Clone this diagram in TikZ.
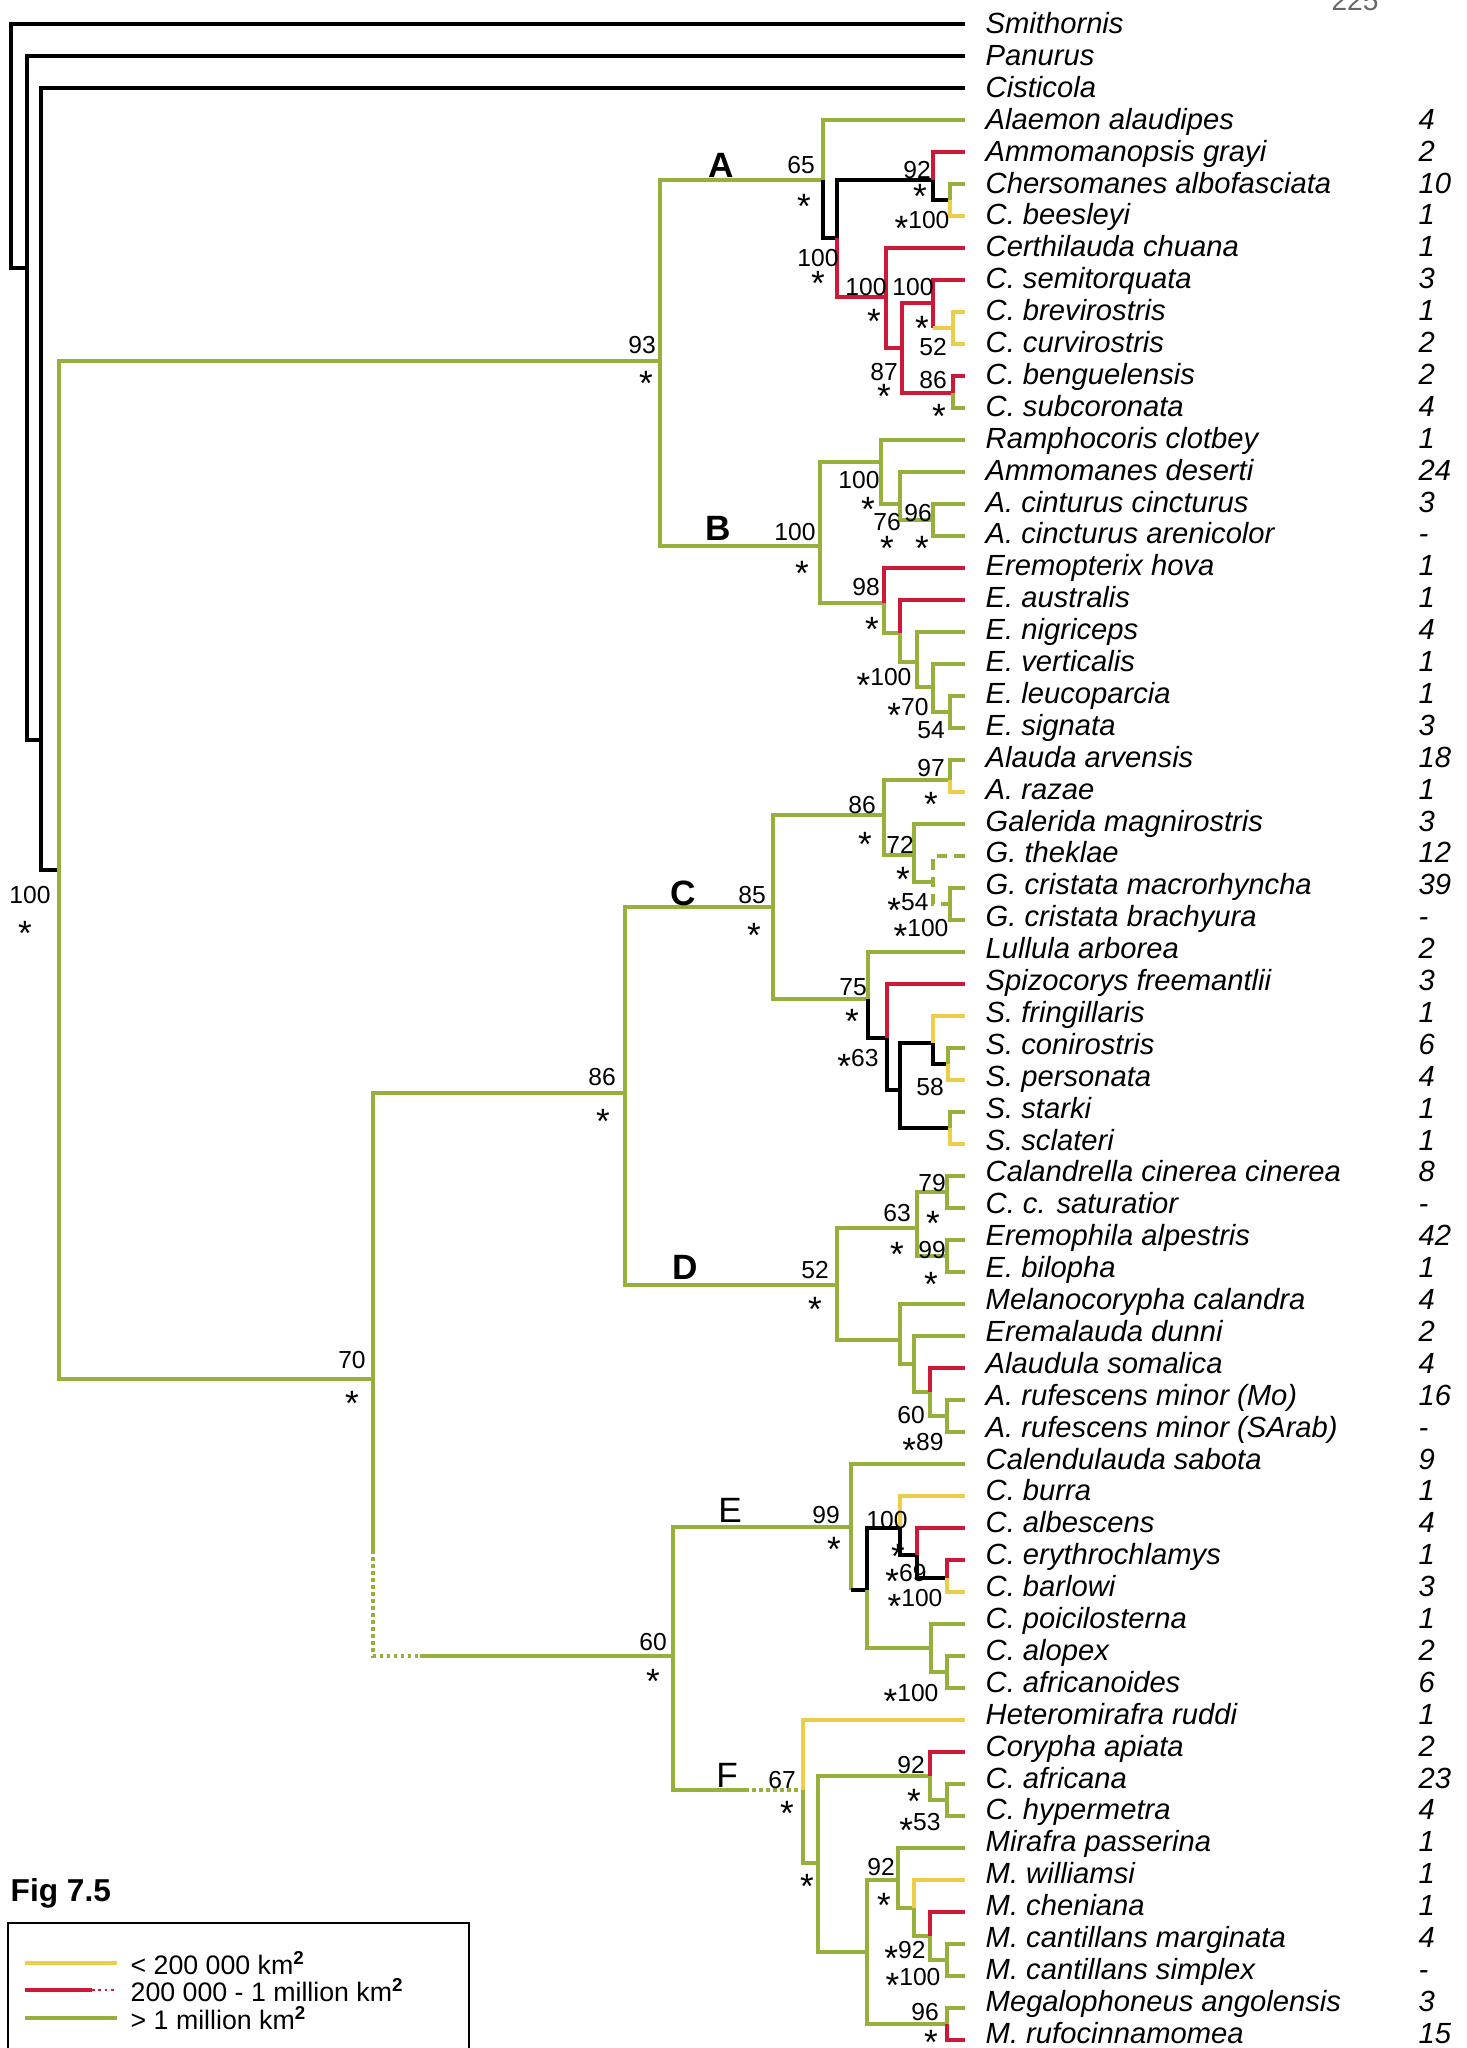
\documentclass[tikz,border=0pt]{standalone}
\usepackage{fontspec}
\setmainfont{Liberation Sans}
\usepackage{xcolor}
\usepackage{tikz}
\usetikzlibrary{positioning}

\definecolor{bigarea}{RGB}{150,176,60}
\definecolor{midarea}{RGB}{205,25,55}
\definecolor{smallarea}{RGB}{238,205,75}
\newcommand{\taxfont}{\fontsize{8.3}{9}\selectfont\itshape}
\newcommand{\sstar}{\raisebox{-3.4pt}[3.8pt][0pt]{\fontsize{10}{10}\selectfont *}}

\begin{document}
\begin{tikzpicture}[
  x=0.01cm, y=-0.01cm,
  rangebig/.style={draw=bigarea, line width=1pt},
  rangemid/.style={draw=midarea, line width=1pt},
  rangesmall/.style={draw=smallarea, line width=1pt},
  noinfo/.style={draw=black, line width=1pt},
  outgroup/.style={draw=black, line width=1.3pt},
  taxon/.style={anchor=base west, inner sep=0pt, yshift=-3pt, font=\taxfont},
  tally/.style={anchor=base west, inner sep=0pt, yshift=-3pt, font=\taxfont},
  supp/.style={inner sep=0pt, font=\fontsize{7}{7}\selectfont},
  clade/.style={inner sep=0pt, font=\bfseries\fontsize{10}{10}\selectfont},
  plainclade/.style={inner sep=0pt, font=\fontsize{10}{10}\selectfont},
  legtext/.style={anchor=west, inner sep=0pt, font=\fontsize{7.6}{8}\selectfont},
]
  \useasboundingbox (0,0) rectangle (1467,2048);

  % outgroups
  \draw[outgroup] (27,268) -| (11,24) -- (965,24);
  \draw[outgroup] (41,740) -| (27,56) -- (965,56);
  \draw[outgroup] (59,870) -| (41,88) -- (965,88);

  % backbone
  \draw[rangebig] (660,361) -| (59,1379) -- (373,1379);
  \draw[rangebig] (823,180) -| (660,546) -- (820,546);
  \draw[rangebig] (625,1093) -| (373,1550);
  \draw[rangebig, densely dotted] (373,1550) |- (420,1656);
  \draw[rangebig] (420,1656) -- (673,1656);
  \draw[rangebig] (773,907) -| (625,1285) -- (837,1285);
  \draw[rangebig] (851,1527) -| (673,1790) -- (745,1790);
  \draw[rangebig, densely dotted] (745,1790) -- (803,1790);

  % clade A
  \draw[rangebig] (823,180) |- (965,120);
  \draw[noinfo] (823,180) |- (837,238) -- (837,180) -- (933,180) -- (933,200) -- (950,200);
  \draw[rangemid] (933,180) |- (965,152);
  \draw[rangebig] (950,200) |- (965,184);
  \draw[rangesmall] (950,200) |- (965,216);
  \draw[rangemid] (837,238) |- (886,297);
  \draw[rangemid] (965,248) -| (886,348) -- (902,348);
  \draw[rangemid] (933,303) -| (902,393) -- (953,393);
  \draw[rangemid] (965,280) -| (933,328);
  \draw[rangesmall] (933,328) -- (953,328);
  \draw[rangesmall] (965,312) -| (953,344) -- (965,344);
  \draw[rangemid] (965,376) -| (953,393);
  \draw[rangebig] (953,393) |- (965,408);

  % clade B
  \draw[rangebig] (881,462) -| (820,603) -- (884,603);
  \draw[rangebig] (965,440) -| (881,504) -- (900,504);
  \draw[rangebig] (965,472) -| (900,520) -- (933,520);
  \draw[rangebig] (965,504) -| (933,536) -- (965,536);
  \draw[rangemid] (965,568) -| (884,603);
  \draw[rangebig] (884,603) |- (900,633);
  \draw[rangemid] (965,600) -| (900,633);
  \draw[rangebig] (900,633) |- (917,662);
  \draw[rangebig] (965,632) -| (917,687) -- (933,687);
  \draw[rangebig] (965,664) -| (933,712) -- (950,712);
  \draw[rangebig] (965,696) -| (950,728) -- (965,728);

  % clade C
  \draw[rangebig] (884,815) -| (773,999) -- (868,999);
  \draw[rangebig] (965,760) -| (950,780) -- (884,780) |- (914,855);
  \draw[rangesmall] (950,780) |- (965,792);
  \draw[rangebig] (965,824) -| (914,882) -- (933,882);
  \draw[rangebig, densely dashed] (965,856) -| (933,904) -- (950,904);
  \draw[rangebig] (965,888) -| (950,920) -- (965,920);
  \draw[rangebig] (965,952) -| (868,999);
  \draw[noinfo] (868,999) |- (887,1038);
  \draw[rangemid] (965,984) -| (887,1038);
  \draw[noinfo] (887,1038) |- (900,1090);
  \draw[noinfo] (933,1043) -| (900,1128) -- (950,1128);
  \draw[rangesmall] (965,1016) -| (933,1043);
  \draw[noinfo] (933,1043) |- (948,1064);
  \draw[rangebig] (965,1048) -| (948,1064);
  \draw[rangesmall] (948,1064) |- (965,1080);
  \draw[rangebig] (965,1112) -| (950,1128);
  \draw[rangesmall] (950,1128) |- (965,1144);

  % clade D
  \draw[rangebig] (917,1228) -| (837,1340) -- (900,1340);
  \draw[rangebig] (947,1192) -| (917,1256) -- (947,1256);
  \draw[rangebig] (965,1176) -| (947,1208) -- (965,1208);
  \draw[rangebig] (965,1240) -| (947,1272) -- (965,1272);
  \draw[rangebig] (965,1304) -| (900,1364) -- (914,1364);
  \draw[rangebig] (965,1336) -| (914,1392) -- (930,1392);
  \draw[rangemid] (965,1368) -| (930,1392);
  \draw[rangebig] (930,1392) |- (947,1416);
  \draw[rangebig] (965,1400) -| (947,1432) -- (965,1432);

  % clade E
  \draw[rangebig] (965,1464) -| (851,1590);
  \draw[noinfo] (851,1590) -- (867,1590) -- (867,1528) -- (900,1528) -- (900,1555) -- (917,1555) -- (917,1578) -- (947,1578);
  \draw[rangesmall] (965,1496) -| (900,1528);
  \draw[rangemid] (965,1528) -| (917,1555);
  \draw[rangemid] (965,1560) -| (947,1578);
  \draw[rangesmall] (947,1578) |- (965,1592);
  \draw[rangebig] (867,1590) |- (931,1648);
  \draw[rangebig] (965,1624) -| (931,1672) -- (947,1672);
  \draw[rangebig] (965,1656) -| (947,1688) -- (965,1688);

  % clade F
  \draw[rangesmall] (965,1720) -| (803,1790);
  \draw[rangebig] (803,1790) |- (818,1863);
  \draw[rangebig] (930,1776) -| (818,1952) -- (867,1952);
  \draw[rangemid] (965,1752) -| (930,1776);
  \draw[rangebig] (930,1776) |- (947,1800);
  \draw[rangebig] (965,1784) -| (947,1816) -- (965,1816);
  \draw[rangebig] (898,1880) -| (867,2024) -- (947,2024);
  \draw[rangebig] (965,1848) -| (898,1908) -- (914,1908);
  \draw[rangesmall] (965,1880) -| (914,1908);
  \draw[rangebig] (914,1908) |- (930,1936);
  \draw[rangemid] (965,1912) -| (930,1936);
  \draw[rangebig] (930,1936) |- (947,1960);
  \draw[rangebig] (965,1944) -| (947,1976) -- (965,1976);
  \draw[rangebig] (965,2008) -| (947,2024);
  \draw[rangemid] (947,2024) |- (965,2040);

  % taxa and counts
  \foreach \tx/\ct [count=\i from 0] in {
    Smithornis/, Panurus/, Cisticola/,
    Alaemon alaudipes/4, Ammomanopsis grayi/2, Chersomanes albofasciata/10,
    C. beesleyi/1, Certhilauda chuana/1, C. semitorquata/3, C. brevirostris/1,
    C. curvirostris/2, C. benguelensis/2, C. subcoronata/4,
    Ramphocoris clotbey/1, Ammomanes deserti/24, A. cinturus cincturus/3,
    A. cincturus arenicolor/-, Eremopterix hova/1, E. australis/1,
    E. nigriceps/4, E. verticalis/1, E. leucoparcia/1, E. signata/3,
    Alauda arvensis/18, A. razae/1, Galerida magnirostris/3, G. theklae/12,
    G. cristata macrorhyncha/39, G. cristata brachyura/-, Lullula arborea/2,
    Spizocorys freemantlii/3, S. fringillaris/1, S. conirostris/6,
    S. personata/4, S. starki/1, S. sclateri/1,
    Calandrella cinerea cinerea/8, C. c. saturatior/-, Eremophila alpestris/42,
    E. bilopha/1, Melanocorypha calandra/4, Eremalauda dunni/2,
    Alaudula somalica/4, A. rufescens minor (Mo)/16, A. rufescens minor (SArab)/-,
    Calendulauda sabota/9, C. burra/1, C. albescens/4, C. erythrochlamys/1,
    C. barlowi/3, C. poicilosterna/1, C. alopex/2, C. africanoides/6,
    Heteromirafra ruddi/1, Corypha apiata/2, C. africana/23, C. hypermetra/4,
    Mirafra passerina/1, M. williamsi/1, M. cheniana/1,
    M. cantillans marginata/4, M. cantillans simplex/-,
    Megalophoneus angolensis/3, M. rufocinnamomea/15}
  {
    \node[taxon] (t\i) at (985,{23+31.9*\i}) {\tx};
    \node[tally] (n\i) at (1418,{23+31.9*\i}) {\ct};
  }

  % support values
  \foreach \sx/\sy/\txt [count=\k] in {
    30/895/100, 25/927/\sstar, 352/1360/70, 352/1397/\sstar,
    642/345/93, 646/377/\sstar, 801/165/65, 804/200/\sstar,
    818/258/100, 818/277/\sstar, 917/170/92, 920/190/\sstar, 922/220/\sstar100,
    866/287/100, 874/315/\sstar, 913/287/100, 922/322/\sstar, 933/347/52,
    884/372/87, 884/390/\sstar, 933/380/86, 939/410/\sstar,
    795/532/100, 802/567/\sstar, 859/480/100, 868/503/\sstar,
    887/522/76, 887/542/\sstar, 918/513/96, 922/542/\sstar,
    866/587/98, 872/623/\sstar, 884/677/\sstar100, 908/707/\sstar70, 931/730/54,
    602/1077/86, 603/1115/\sstar, 752/895/85, 754/929/\sstar,
    862/805/86, 865/838/\sstar, 931/768/97, 931/798/\sstar,
    900/845/72, 903/873/\sstar, 908/902/\sstar54, 921/928/\sstar100,
    853/987/75, 852/1015/\sstar, 858/1058/\sstar63, 930/1087/58,
    815/1270/52, 815/1303/\sstar, 897/1213/63, 897/1248/\sstar,
    932/1183/79, 933/1217/\sstar, 932/1250/99, 931/1278/\sstar,
    911/1415/60, 923/1442/\sstar89,
    653/1642/60, 653/1675/\sstar, 826/1515/99, 834/1543/\sstar,
    887/1520/100, 898/1550/\sstar, 906/1573/\sstar69, 915/1598/\sstar100,
    911/1693/\sstar100,
    782/1780/67, 787/1807/\sstar, 807/1880/\sstar,
    911/1765/92, 914/1795/\sstar, 920/1822/\sstar53,
    881/1867/92, 884/1899/\sstar, 905/1950/\sstar92, 913/1977/\sstar100,
    925/2012/96, 931/2036/\sstar}
  {
    \node[supp] (sup\k) at (\sx,\sy) {\txt};
  }

  % clade letters
  \node[clade] (cladeA) at (721,165) {A};
  \node[clade] (cladeB) at (718,528) {B};
  \node[clade] (cladeC) at (683,893) {C};
  \node[clade] (cladeD) at (685,1267) {D};
  \node[plainclade] (cladeE) at (730,1510) {E};
  \node[plainclade] (cladeF) at (727,1775) {F};

  \node[anchor=base, inner sep=0pt, text=black!60, font=\fontsize{8}{8}\selectfont] (pagenum) at (1355,10) {225};

  % legend
  \node[anchor=west, inner sep=0pt, font=\bfseries\fontsize{9}{10}\selectfont] (figlabel) at (10,1893) {Fig 7.5};
  \draw[line width=0.8pt] (8,2070) |- (469,1923) -- (469,2070);
  \coordinate (k1) at (25,1963);  \coordinate (k1e) at (117,1963);
  \coordinate (k2) at (25,1990);  \coordinate (k2m) at (92,1990);  \coordinate (k2e) at (117,1990);
  \coordinate (k3) at (25,2018);  \coordinate (k3e) at (117,2018);
  \draw[rangesmall, line width=1.3pt] (k1) -- (k1e);
  \draw[rangemid, line width=1.1pt] (k2) -- (k2m);
  \draw[rangemid, line width=0.8pt, densely dotted] (k2m) -- (k2e);
  \draw[rangebig, line width=1.3pt] (k3) -- (k3e);
  \node[legtext, right=0.13cm of k1e] (leg1) {< 200 000 km\textsuperscript{\textbf{2}}};
  \node[legtext, right=0.13cm of k2e] (leg2) {200 000 - 1 million km\textsuperscript{\textbf{2}}};
  \node[legtext, right=0.13cm of k3e] (leg3) {> 1 million km\textsuperscript{\textbf{2}}};
\end{tikzpicture}
\end{document}
